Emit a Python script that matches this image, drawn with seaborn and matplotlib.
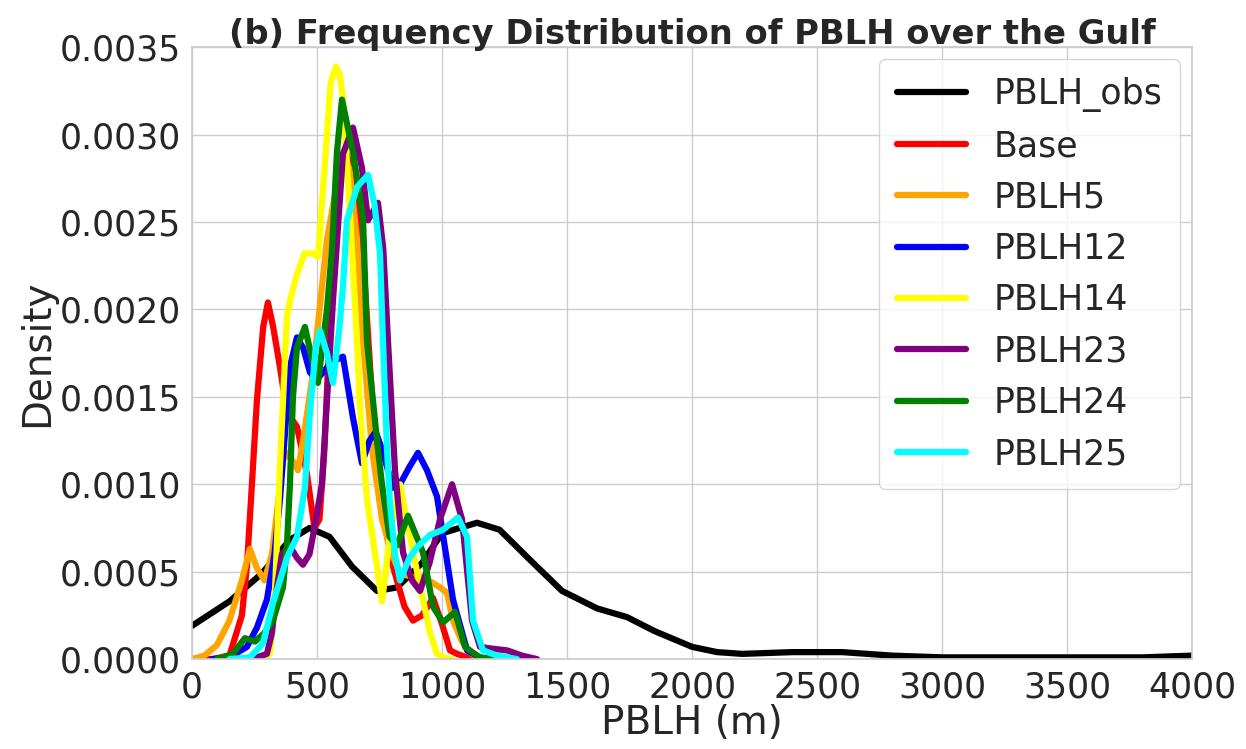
import numpy as np
import pandas as pd
import matplotlib
matplotlib.use("Agg")
import matplotlib.pyplot as plt
import seaborn as sns
from matplotlib.ticker import FormatStrFormatter

labels = ["PBLH_obs", "Base", "PBLH5", "PBLH12", "PBLH14", "PBLH23", "PBLH24", "PBLH25"]
colors = ["black", "red", "orange", "blue", "yellow", "purple", "green", "cyan"]

obs_x = [0, 150, 280, 390, 470, 550, 640, 740, 820, 920, 1000, 1140, 1230, 1350, 1480, 1620, 1740, 1850,
         2000, 2100, 2200, 2400, 2600, 2800, 3000, 3300, 3600, 3800, 4000]
obs_y = [0.00019, 0.00033, 0.00049, 0.00068, 0.00075, 0.0007, 0.00053, 0.00039, 0.00041, 0.00055, 0.00072,
         0.00078, 0.00074, 0.00057, 0.00039, 0.00029, 0.00024, 0.00016, 0.00007, 0.00004, 0.00003, 0.00004,
         0.00004, 0.00002, 0.00001, 0.00001, 0.00001, 0.00001, 0.00002]

base_x = [0, 80, 150, 200, 220, 240, 260, 285, 304, 325, 352, 380, 420, 460, 490, 510, 530, 560, 590, 615,
          640, 680, 720, 752, 804, 850, 884, 920, 964, 1000, 1032, 1060, 1100, 1150]
base_y = [0, 0, 0.00002, 0.00025, 0.00053, 0.001, 0.00148, 0.0019, 0.00204, 0.0019, 0.00167, 0.00141,
          0.00133, 0.00106, 0.00075, 0.0008, 0.0012, 0.0022, 0.0028, 0.0029, 0.0028, 0.0024, 0.0015, 0.00091,
          0.00053, 0.0003, 0.00022, 0.00025, 0.00035, 0.0002, 0.00005, 0.00003, 0.00001, 0]

p5_x = [0, 50, 100, 150, 200, 232, 260, 290, 320, 345, 364, 384, 424, 450, 480, 500, 540, 580, 605, 630,
        660, 684, 720, 760, 800, 832, 880, 924, 992, 1020, 1044, 1080, 1120, 1160]
p5_y = [0, 0.00002, 0.00008, 0.00022, 0.00045, 0.00063, 0.00052, 0.00045, 0.0006, 0.0009, 0.00114, 0.00118,
        0.00108, 0.0013, 0.0016, 0.00186, 0.0024, 0.00272, 0.0029, 0.0028, 0.0024, 0.00182, 0.0012, 0.0008,
        0.0006, 0.00049, 0.00047, 0.00047, 0.00041, 0.00038, 0.00022, 0.0001, 0.00003, 0]

p12_x = [80, 150, 220, 260, 300, 330, 352, 392, 420, 445, 472, 500, 530, 560, 604, 644, 680, 710, 735, 760,
         804, 832, 870, 904, 940, 980, 1044, 1100, 1150, 1200]
p12_y = [0, 0.00001, 0.00007, 0.00018, 0.00034, 0.0006, 0.00091, 0.00167, 0.00184, 0.00178, 0.00164, 0.0016,
         0.00165, 0.0017, 0.00173, 0.00138, 0.00112, 0.00125, 0.0013, 0.0012, 0.00098, 0.001, 0.0011, 0.00118,
         0.00108, 0.00093, 0.00034, 0.00005, 0.00001, 0]

p14_x = [280, 312, 330, 352, 380, 392, 420, 450, 484, 504, 530, 555, 576, 590, 604, 630, 660, 672, 700, 740,
         760, 775, 792, 832, 884, 924, 952, 980, 1004, 1040]
p14_y = [0, 0.00003, 0.0003, 0.0011, 0.00196, 0.00205, 0.0022, 0.00232, 0.00232, 0.0023, 0.0028, 0.0033,
         0.00339, 0.00335, 0.00321, 0.0026, 0.00182, 0.00144, 0.00091, 0.00053, 0.00033, 0.0005, 0.00072, 0.001,
         0.00061, 0.00034, 0.00015, 0.00003, 0.00001, 0]

p23_x = [200, 260, 300, 320, 340, 360, 390, 420, 444, 470, 490, 520, 540, 564, 604, 644, 680, 704, 744, 765,
         784, 812, 844, 880, 912, 950, 992, 1040, 1080, 1120, 1152, 1200, 1260, 1320, 1380]
p23_y = [0, 0.00001, 0.00003, 0.00015, 0.00041, 0.0006, 0.00065, 0.00058, 0.00054, 0.0006, 0.00075, 0.001,
         0.00148, 0.00205, 0.00289, 0.00304, 0.00281, 0.00251, 0.00261, 0.00235, 0.00182, 0.00108, 0.00061,
         0.00045, 0.00039, 0.00055, 0.0008, 0.001, 0.0008, 0.00022, 0.00007, 0.00006, 0.00005, 0.00002, 0]

p24_x = [100, 164, 212, 252, 290, 324, 364, 380, 392, 404, 420, 452, 475, 504, 540, 560, 580, 600, 644, 684,
         700, 740, 760, 790, 820, 864, 924, 964, 1004, 1052, 1092, 1150, 1200]
p24_y = [0, 0.00003, 0.00012, 0.0001, 0.00015, 0.00022, 0.00041, 0.00065, 0.001, 0.0015, 0.00178, 0.0019,
         0.00175, 0.00158, 0.002, 0.00234, 0.0029, 0.0032, 0.0029, 0.00253, 0.00182, 0.00125, 0.001, 0.0007,
         0.00065, 0.00082, 0.00061, 0.0003, 0.00021, 0.00027, 0.00007, 0.00001, 0]

p25_x = [150, 232, 284, 324, 380, 420, 452, 472, 495, 512, 540, 564, 590, 604, 620, 660, 704, 730, 752, 764,
         780, 792, 812, 832, 870, 900, 952, 1004, 1064, 1100, 1124, 1164, 1220, 1300]
p25_y = [0, 0.00001, 0.00009, 0.00032, 0.00058, 0.0007, 0.00098, 0.00141, 0.00178, 0.00188, 0.00175, 0.00158,
         0.0019, 0.00213, 0.00251, 0.0027, 0.00277, 0.0026, 0.00232, 0.00182, 0.0012, 0.00089, 0.0006, 0.00045,
         0.00058, 0.00064, 0.00071, 0.00074, 0.00081, 0.0007, 0.00022, 0.00005, 0.00002, 0]

xs = [obs_x, base_x, p5_x, p12_x, p14_x, p23_x, p24_x, p25_x]
ys = [obs_y, base_y, p5_y, p12_y, p14_y, p23_y, p24_y, p25_y]

frames = []
for lab, x, y in zip(labels, xs, ys):
    frames.append(pd.DataFrame({"PBLH": x, "Density": y, "Case": lab}))
df = pd.concat(frames, ignore_index=True)

sns.set_theme(style="whitegrid")
plt.rcParams['font.family'] = ['DejaVu Sans']

fig = plt.figure(figsize=(12.46, 7.49), dpi=100)
ax = fig.add_axes([0.154, 0.120, 0.803, 0.817])

for lab, col in zip(labels, colors):
    sub = df[df["Case"] == lab]
    sns.lineplot(data=sub, x="PBLH", y="Density", color=col, linewidth=4.5, label=lab, ax=ax,
                 sort=False, estimator=None, solid_joinstyle="round", solid_capstyle="round")

ax.set_xlim(0, 4000)
ax.set_ylim(0, 0.0035)
ax.set_xticks(np.arange(0, 4001, 500))
ax.set_yticks(np.arange(0, 0.00351, 0.0005))
ax.yaxis.set_major_formatter(FormatStrFormatter('%.4f'))
ax.tick_params(labelsize=25, pad=2)
ax.set_xlabel("PBLH (m)", fontsize=28, labelpad=0)
ax.set_ylabel("Density", fontsize=28, labelpad=2)
ax.set_title("(b) Frequency Distribution of PBLH over the Gulf", fontsize=24.3, fontweight='bold', pad=2)
leg = ax.legend(loc="upper right", fontsize=25, handlelength=2.0, frameon=True,
                borderaxespad=0.35, labelspacing=0.5, borderpad=0.5)

fig.savefig("out.png", dpi=100)
